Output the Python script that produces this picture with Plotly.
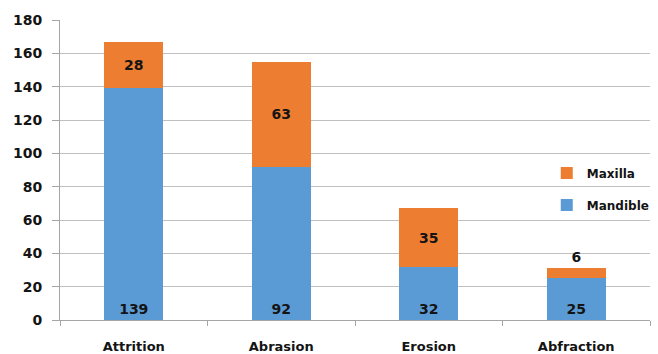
import plotly.graph_objects as go

categories = ["Attrition", "Abrasion", "Erosion", "Abfraction"]
mandible = [139, 92, 32, 25]
maxilla = [28, 63, 35, 6]

BLUE = "#5b9bd5"
ORANGE = "#ed7d31"
FONT = "DejaVu Sans"
TXT = "#141414"

fig = go.Figure()

fig.add_trace(go.Bar(
    x=categories, y=mandible, name="Mandible",
    marker=dict(color=BLUE, line=dict(width=0)),
    text=[str(v) for v in mandible],
    textposition="inside", insidetextanchor="start",
    textfont=dict(family=FONT, size=14, color=TXT, weight="bold"),
    constraintext="none",
    width=0.4, legend="legend2", showlegend=True,
))
fig.add_trace(go.Bar(
    x=categories, y=maxilla, name="Maxilla",
    marker=dict(color=ORANGE, line=dict(width=0)),
    text=[str(v) for v in maxilla],
    textposition=["inside", "inside", "inside", "outside"],
    insidetextanchor="middle",
    textfont=dict(family=FONT, size=14, color=TXT, weight="bold"),
    constraintext="none", cliponaxis=False,
    width=0.4, legend="legend", showlegend=True,
))

fig.update_layout(
    width=658, height=354,
    margin=dict(l=60, r=3, t=20, b=34),
    barmode="stack",
    showlegend=True,
    plot_bgcolor="white", paper_bgcolor="white",
    font=dict(family=FONT, size=13, color=TXT, weight="bold"),
    uniformtext=dict(minsize=14, mode="show"),
    legend=dict(x=0.825, y=0.49, xanchor="left", yanchor="middle",
                bgcolor="rgba(0,0,0,0)", itemwidth=30,
                font=dict(family=FONT, size=12, color=TXT, weight="bold")),
    legend2=dict(x=0.825, y=0.383, xanchor="left", yanchor="middle",
                 bgcolor="rgba(0,0,0,0)", itemwidth=30,
                 font=dict(family=FONT, size=12, color=TXT, weight="bold")),
)

fig.update_yaxes(
    range=[0, 180], dtick=20, tick0=0,
    showgrid=True, gridcolor="#c0c0c0", gridwidth=1,
    showline=True, linecolor="#a6a6a6", linewidth=1,
    ticks="outside", ticklen=7, tickcolor="#a6a6a6",
    ticklabelstandoff=7, automargin=False,
    zeroline=False,
    tickfont=dict(family=FONT, size=14, color=TXT, weight="bold"),
)
fig.update_xaxes(
    showline=True, linecolor="#a6a6a6", linewidth=1,
    ticks="outside", ticklen=5, tickcolor="#a6a6a6",
    tickson="boundaries", ticklabelstandoff=14, automargin=False,
    tickfont=dict(family=FONT, size=13, color=TXT, weight="bold"),
)

fig.write_html("out.html")
